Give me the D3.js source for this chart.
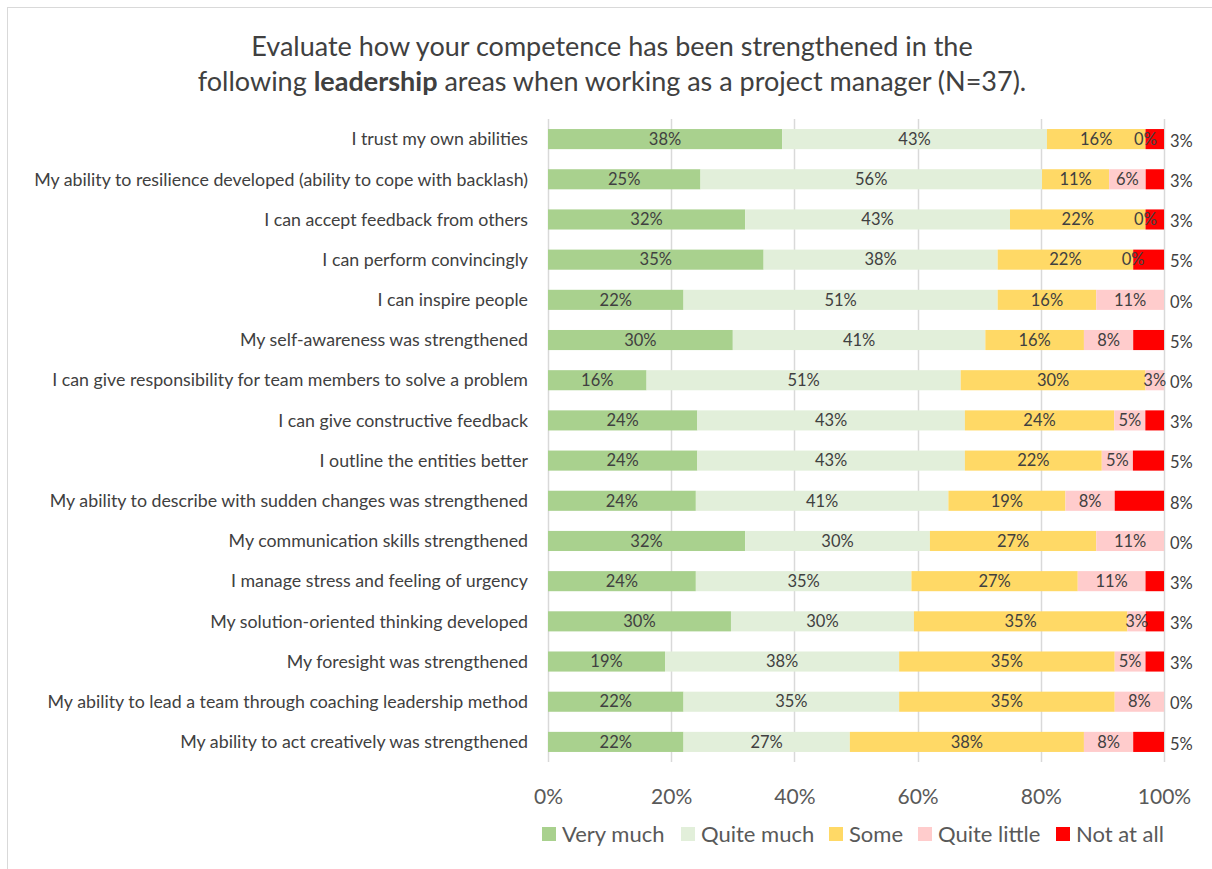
<!DOCTYPE html>
<html>
<head>
<meta charset="utf-8">
<script src="https://cdn.jsdelivr.net/npm/d3@7"></script>
<style>
  html, body { margin: 0; padding: 0; background: #fff; }
  svg { display: block; }
  text { font-family: Lato, "Open Sans", sans-serif; }
</style>
</head>
<body>
<svg id="chart" width="1212" height="869"></svg>
<script>
const categories = [
  "I trust my own abilities",
  "My ability to resilience developed (ability to cope with backlash)",
  "I can accept feedback from others",
  "I can perform convincingly",
  "I can inspire people",
  "My self-awareness was strengthened",
  "I can give responsibility for team members to solve a problem",
  "I can give constructive feedback",
  "I outline the entities better",
  "My ability to describe with sudden changes was strengthened",
  "My communication skills strengthened",
  "I manage stress and feeling of urgency",
  "My solution-oriented thinking developed",
  "My foresight was strengthened",
  "My ability to lead a team through coaching leadership method",
  "My ability to act creatively was strengthened"
];
const seriesNames = ["Very much", "Quite much", "Some", "Quite little", "Not at all"];
const veryMuch    = [38, 25, 32, 35, 22, 30, 16, 24, 24, 24, 32, 24, 30, 19, 22, 22];
const quiteMuch   = [43, 56, 43, 38, 51, 41, 51, 43, 43, 41, 30, 35, 30, 38, 35, 27];
const some        = [16, 11, 22, 22, 16, 16, 30, 24, 22, 19, 27, 27, 35, 35, 35, 38];
const quiteLittle = [0, 6, 0, 0, 11, 8, 3, 5, 5, 8, 11, 11, 3, 5, 8, 8];
const notAtAll    = [3, 3, 3, 5, 0, 5, 0, 3, 5, 8, 0, 3, 3, 3, 0, 5];
const xTicks = [0, 0.2, 0.4, 0.6, 0.8, 1.0];
const titleLine1 = "Evaluate how your competence has been strengthened in the";
const titleLine2 = ["following ", "leadership", " areas when working as a project manager (N=37)."];

const colors = ["#A9D18E", "#E2EFDA", "#FFD966", "#FFCCCC", "#FF0000"];
const textColor = "#404040";

const svg = d3.select("#chart");

// outer border
svg.append("rect").attr("x", 7.5).attr("y", 7.5).attr("width", 1220).attr("height", 880)
  .attr("fill", "none").attr("stroke", "#D9D9D9").attr("stroke-width", 1);

// title
svg.append("text").attr("x", 612).attr("y", 56).attr("text-anchor", "middle")
  .attr("font-size", 27).attr("fill", textColor).text(titleLine1);
const t2 = svg.append("text").attr("x", 612).attr("y", 91).attr("text-anchor", "middle")
  .attr("font-size", 27).attr("fill", textColor);
titleLine2.forEach((s, i) => t2.append("tspan").attr("font-weight", i === 1 ? "bold" : "normal").text(s));

const series = [veryMuch, quiteMuch, some, quiteLittle, notAtAll];
const rows = categories.map((c, i) => {
  const o = { cat: c };
  seriesNames.forEach((s, j) => o[s] = series[j][i]);
  return o;
});

const x = d3.scaleLinear().domain([0, 1]).range([548, 1164]);
const y = d3.scaleBand().domain(categories).range([119, 762]).paddingInner(0.5).paddingOuter(0.25);

// gridlines
svg.append("g").selectAll("line").data(xTicks).join("line")
  .attr("x1", d => Math.round(x(d)) + 0.5).attr("x2", d => Math.round(x(d)) + 0.5)
  .attr("y1", 119).attr("y2", 762)
  .attr("stroke", "#D9D9D9").attr("stroke-width", 1.5);

const stack = d3.stack().keys(seriesNames).offset(d3.stackOffsetExpand);
const stacked = stack(rows);

const g = svg.append("g");
stacked.forEach((layer, j) => {
  g.append("g").attr("fill", colors[j]).selectAll("rect").data(layer).join("rect")
    .attr("x", d => x(d[0]))
    .attr("y", d => y(d.data.cat))
    .attr("width", d => Math.max(0, x(d[1]) - x(d[0])))
    .attr("height", y.bandwidth());
});

// labels in bars (first four series)
stacked.forEach((layer, j) => {
  if (j === 4) return;
  g.append("g").selectAll("text").data(layer).join("text")
    .attr("x", d => (x(d[0]) + x(d[1])) / 2)
    .attr("y", d => y(d.data.cat) + y.bandwidth() / 2)
    .attr("dy", "0.35em")
    .attr("text-anchor", "middle")
    .attr("font-size", 16.5)
    .attr("fill", textColor)
    .text(d => d.data[seriesNames[j]] + "%");
});
// Not at all labels outside right
g.append("g").selectAll("text").data(stacked[4]).join("text")
  .attr("x", x(1) + 6)
  .attr("y", d => y(d.data.cat) + y.bandwidth() / 2 + 2)
  .attr("dy", "0.35em")
  .attr("font-size", 16.5)
  .attr("fill", textColor)
  .text(d => d.data["Not at all"] + "%");

// category labels
svg.append("g").selectAll("text").data(categories).join("text")
  .attr("x", 528)
  .attr("y", d => y(d) + y.bandwidth() / 2)
  .attr("dy", "0.35em")
  .attr("text-anchor", "end")
  .attr("font-size", 17.8)
  .attr("fill", textColor)
  .text(d => d);

// x axis
const xAxis = d3.axisBottom(x).tickValues(xTicks).tickFormat(d3.format(".0%")).tickSize(0).tickPadding(0);
const ax = svg.append("g").attr("transform", "translate(0,789)").call(xAxis);
ax.select(".domain").remove();
ax.selectAll("text").attr("font-size", 21).attr("fill", "#595959").attr("font-family", "Lato, sans-serif");

// legend
const legendX = [542, 681, 829, 918, 1056];
const lg = svg.append("g");
seriesNames.forEach((s, j) => {
  lg.append("rect").attr("x", legendX[j]).attr("y", 827).attr("width", 14).attr("height", 14).attr("fill", colors[j]);
  lg.append("text").attr("x", legendX[j] + 20).attr("y", 834).attr("dy", "0.35em")
    .attr("font-size", 22).attr("fill", "#595959").text(s);
});
</script>
</body>
</html>
